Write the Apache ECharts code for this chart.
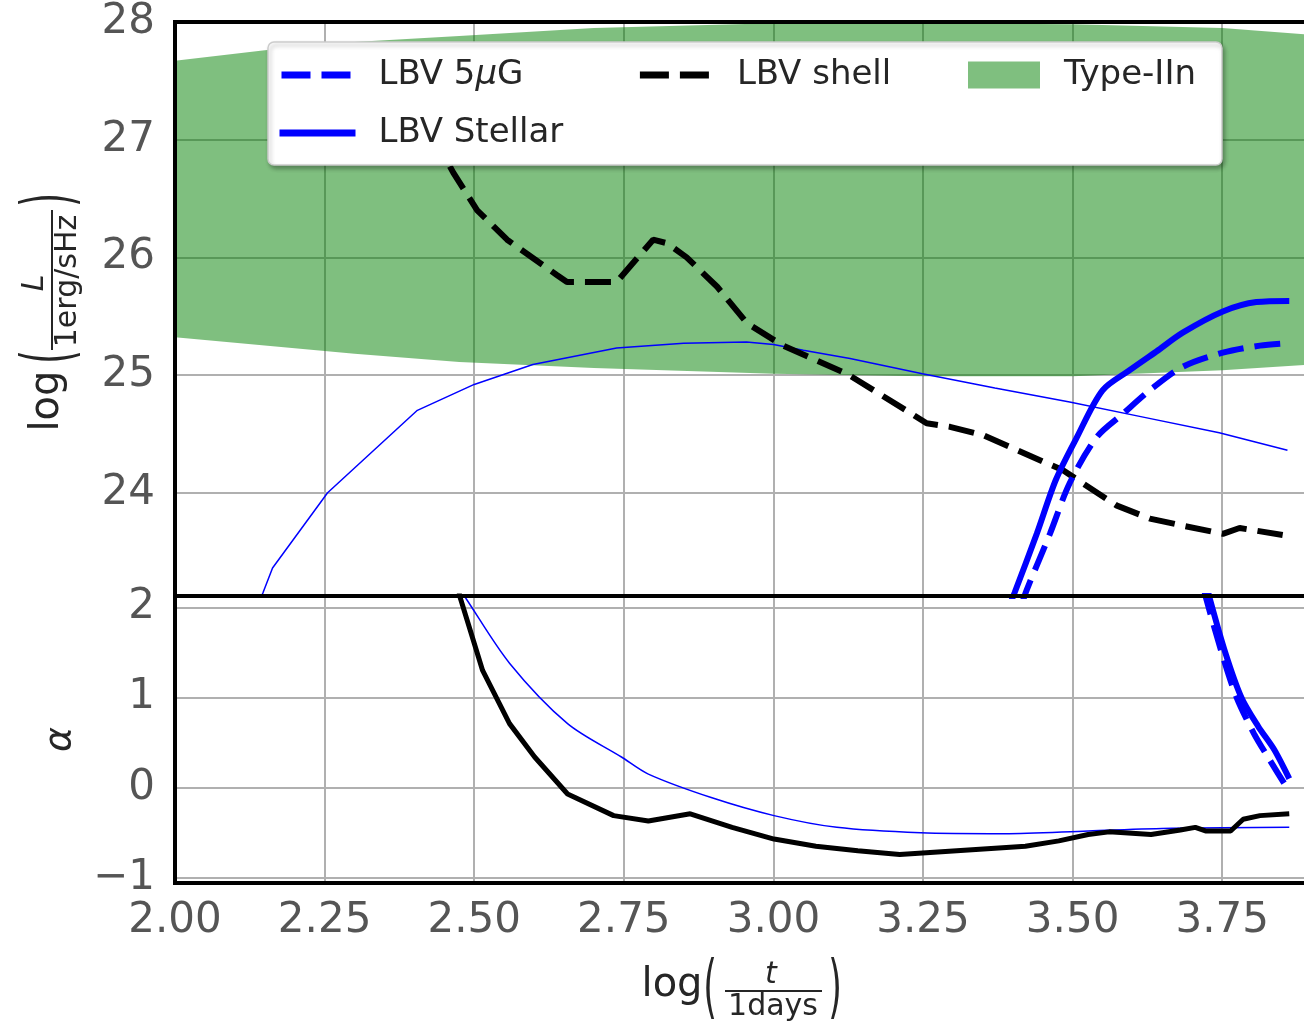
<!DOCTYPE html>
<html>
<head>
<meta charset="utf-8">
<title>LBV radio light curves</title>
<script src="https://cdn.jsdelivr.net/npm/echarts@6/dist/echarts.min.js"></script>
<style>
  html, body { margin: 0; padding: 0; background: #fff; }
  #chart { width: 1304px; height: 1025px; }
</style>
</head>
<body>
<div id="chart"></div>
<script>
// tick labels
const xTicks = [2.0, 2.25, 2.5, 2.75, 3.0, 3.25, 3.5, 3.75]
const lumTicks = [24, 25, 26, 27, 28]
const alphaTicks = [-1, 0, 1, 2]

// Type-IIn band (upper / lower edge of log L)
const bandX = [2.0, 2.15, 2.3, 2.475, 2.7, 3.0, 3.25, 3.5, 3.75, 3.9]
const bandUpper = [27.67, 27.76, 27.83, 27.88, 27.95, 27.99, 27.99, 27.98, 27.95, 27.89]
const bandLower = [25.32, 25.25, 25.18, 25.11, 25.06, 25.01, 24.99, 24.99, 25.04, 25.09]

// thin blue curve, top panel
const thinX = [2.139, 2.147, 2.163, 2.255, 2.405, 2.5, 2.598, 2.738, 2.85, 2.955, 3.0, 3.05, 3.128, 3.249, 3.37, 3.495, 3.62, 3.745, 3.859]
const thinL = [23.05, 23.15, 23.36, 24.0, 24.7, 24.92, 25.09, 25.23, 25.27, 25.28, 25.26, 25.21, 25.14, 25.01, 24.89, 24.77, 24.64, 24.51, 24.36]

// LBV shell (black dashed), top panel
const shellX = [2.43, 2.465, 2.505, 2.555, 2.638, 2.655, 2.738, 2.799, 2.822, 2.855, 2.906, 2.956, 3.016, 3.123, 3.139, 3.228, 3.256, 3.295, 3.35, 3.417, 3.484, 3.517, 3.574, 3.629, 3.684, 3.751, 3.779, 3.851]
const shellL = [27.05, 26.72, 26.4, 26.15, 25.85, 25.79, 25.79, 26.15, 26.12, 26.0, 25.75, 25.44, 25.25, 25.01, 24.96, 24.68, 24.59, 24.56, 24.49, 24.34, 24.19, 24.08, 23.89, 23.78, 23.72, 23.65, 23.7, 23.64]

// LBV Stellar (thick solid), top panel
const stellarX = [3.395, 3.403, 3.44, 3.472, 3.507, 3.55, 3.595, 3.64, 3.684, 3.751, 3.807, 3.862]
const stellarL = [23.05, 23.15, 23.65, 24.11, 24.47, 24.87, 25.04, 25.2, 25.36, 25.54, 25.62, 25.63]

// LBV 5uG (thick dashed), top panel
const fieldX = [3.415, 3.423, 3.462, 3.495, 3.54, 3.584, 3.629, 3.684, 3.751, 3.813, 3.858]
const fieldL = [23.05, 23.17, 23.65, 24.08, 24.47, 24.67, 24.87, 25.07, 25.19, 25.25, 25.27]

// spectral index, bottom panel
const thinAlphaX = [2.476, 2.486, 2.559, 2.656, 2.746, 2.791, 2.896, 3.001, 3.106, 3.246, 3.386, 3.526, 3.666, 3.862]
const thinAlpha = [2.2, 2.1, 1.38, 0.71, 0.34, 0.15, -0.11, -0.31, -0.44, -0.5, -0.51, -0.48, -0.45, -0.44]

const shellAlphaX = [2.474, 2.476, 2.514, 2.559, 2.601, 2.656, 2.733, 2.791, 2.861, 2.931, 3.001, 3.071, 3.141, 3.211, 3.281, 3.351, 3.421, 3.477, 3.526, 3.561, 3.631, 3.68, 3.705, 3.722, 3.764, 3.785, 3.813, 3.862]
const shellAlpha = [2.2, 2.12, 1.3, 0.71, 0.34, -0.07, -0.31, -0.37, -0.29, -0.44, -0.57, -0.65, -0.7, -0.74, -0.71, -0.68, -0.65, -0.59, -0.52, -0.49, -0.52, -0.47, -0.44, -0.48, -0.48, -0.35, -0.31, -0.29]

const stellarAlphaX = [3.726, 3.728, 3.755, 3.782, 3.81, 3.837, 3.862]
const stellarAlpha = [2.2, 2.125, 1.5, 1.0, 0.68, 0.42, 0.1]

const fieldAlphaX = [3.72, 3.722, 3.749, 3.774, 3.803, 3.83, 3.858]
const fieldAlpha = [2.2, 2.125, 1.5, 1.0, 0.6, 0.3, 0.0]

const FONT = 'DejaVu Sans'
const BLUE = '#0000ff'
const GRID_LINE = { lineStyle: { color: '#b0b0b0', width: 2 } }

function pairs(xs, ys) {
  return xs.map((x, i) => [x, ys[i]])
}

function isTick(v, ticks) {
  return ticks.some((t) => Math.abs(t - v) < 1e-6)
}

function lineSeries(name, xs, ys, axis, style, smooth) {
  return {
    name: name,
    type: 'line',
    xAxisIndex: axis,
    yAxisIndex: axis,
    data: pairs(xs, ys),
    symbol: 'none',
    showSymbol: false,
    clip: true,
    smooth: smooth || false,
    itemStyle: { color: style.color },
    lineStyle: style,
    emphasis: { disabled: true }
  }
}

// legend label: spacer + name, mu in italics
function legendLabel(name) {
  return '{s|}' + name.replace('μ', '{i|μ}')
}

function legendText(gap) {
  return {
    fontFamily: FONT,
    fontSize: 34,
    color: '#262626',
    lineHeight: 40,
    rich: {
      s: { width: gap },
      i: { fontFamily: FONT, fontSize: 34, fontStyle: 'italic', color: '#262626', lineHeight: 40 }
    }
  }
}

const chart = echarts.init(document.getElementById('chart'))

const xAxisBase = {
  type: 'value',
  min: 2,
  max: 3.9,
  interval: 0.25,
  axisLine: { show: false },
  axisTick: { show: false },
  splitLine: GRID_LINE
}

const option = {
  animation: false,
  backgroundColor: '#fff',
  grid: [
    { left: 175, top: 22, width: 1137, height: 574, show: true, borderColor: '#000', borderWidth: 4, backgroundColor: 'transparent', z: 10, outerBoundsMode: 'none' },
    { left: 175, top: 596, width: 1137, height: 287, show: true, borderColor: '#000', borderWidth: 4, backgroundColor: 'transparent', z: 10, outerBoundsMode: 'none' }
  ],
  xAxis: [
    Object.assign({}, xAxisBase, { gridIndex: 0, axisLabel: { show: false } }),
    Object.assign({}, xAxisBase, {
      gridIndex: 1,
      axisLabel: {
        fontFamily: FONT,
        fontSize: 42,
        color: '#555',
        margin: 17,
        showMaxLabel: false,
        formatter: (v) => (isTick(v, xTicks) ? v.toFixed(2) : '')
      }
    })
  ],
  yAxis: [
    {
      gridIndex: 0,
      type: 'value',
      min: 23.122,
      max: 28,
      minInterval: 1,
      maxInterval: 1,
      axisLine: { show: false },
      axisTick: { show: false },
      splitLine: GRID_LINE,
      axisLabel: {
        fontFamily: FONT,
        fontSize: 42,
        color: '#555',
        margin: 20,
        showMinLabel: false,
        formatter: (v) => (isTick(v, lumTicks) ? String(v) : '')
      }
    },
    {
      gridIndex: 1,
      type: 'value',
      min: -1.057,
      max: 2.125,
      minInterval: 1,
      maxInterval: 1,
      axisLine: { show: false },
      axisTick: { show: false },
      splitLine: GRID_LINE,
      name: 'α',
      nameLocation: 'middle',
      nameRotate: 90,
      nameGap: 96,
      nameTextStyle: { fontFamily: FONT, fontSize: 38, fontStyle: 'italic', color: '#262626' },
      axisLabel: {
        fontFamily: FONT,
        fontSize: 42,
        color: '#555',
        margin: 20,
        showMinLabel: false,
        showMaxLabel: false,
        formatter: (v) => (isTick(v, alphaTicks) ? (v < 0 ? '\u2212' + Math.abs(v) : String(v)) : '')
      }
    }
  ],
  legend: [
    {
      z: 6, left: 278, top: 55, padding: 0, itemGap: 113, itemWidth: 70, itemHeight: 14,
      lineStyle: { width: 7 },
      itemStyle: { opacity: 0 },
      textStyle: legendText(22),
      formatter: legendLabel,
      data: [
        { name: 'LBV 5μG', lineStyle: { type: [29, 11] } },
        { name: 'LBV shell', lineStyle: { type: [29, 11] } }
      ]
    },
    {
      z: 6, left: 276, top: 113, padding: 0, itemWidth: 76, itemHeight: 14,
      lineStyle: { width: 7 },
      itemStyle: { opacity: 0 },
      textStyle: legendText(18),
      formatter: legendLabel,
      data: ['LBV Stellar']
    },
    {
      z: 6, left: 968, top: 55, padding: 0, itemWidth: 72, itemHeight: 27, icon: 'rect',
      textStyle: legendText(19),
      formatter: legendLabel,
      data: ['Type-IIn']
    }
  ],
  graphic: [
    // legend frame
    {
      type: 'rect', z: 5, x: 268, y: 42, silent: true,
      shape: { width: 954, height: 123, r: 6 },
      style: { fill: '#fff', stroke: '#cccccc', lineWidth: 1.5, shadowBlur: 4, shadowOffsetX: 2, shadowOffsetY: 3, shadowColor: 'rgba(0,0,0,0.3)' }
    },
    // y label, top panel: log(L / 1erg/sHz)
    {
      type: 'group', x: 52, y: 281, rotation: Math.PI / 2, silent: true,
      children: [
        { type: 'text', x: -120, y: -4, style: { text: 'log', fontFamily: FONT, fontSize: 40, fill: '#262626', align: 'center', verticalAlign: 'middle' } },
        { type: 'text', x: -76, y: 1, scaleX: 0.5, style: { text: '(', fontFamily: FONT, fontSize: 70, fill: '#262626', align: 'center', verticalAlign: 'middle' } },
        { type: 'text', x: -2, y: -17, style: { text: 'L', fontFamily: FONT, fontSize: 30, fontStyle: 'italic', fill: '#262626', align: 'center', verticalAlign: 'middle' } },
        { type: 'line', shape: { x1: -69, y1: 0, x2: 71, y2: 0 }, style: { stroke: '#262626', lineWidth: 2 } },
        { type: 'text', x: 0, y: 16, style: { text: '1erg/sHz', fontFamily: FONT, fontSize: 30, fill: '#262626', align: 'center', verticalAlign: 'middle' } },
        { type: 'text', x: 81, y: 1, scaleX: 0.5, style: { text: ')', fontFamily: FONT, fontSize: 70, fill: '#262626', align: 'center', verticalAlign: 'middle' } }
      ]
    },
    // x label: log(t / 1days)
    {
      type: 'group', x: 0, y: 0, silent: true,
      children: [
        { type: 'text', x: 672, y: 986, style: { text: 'log', fontFamily: FONT, fontSize: 40, fill: '#262626', align: 'center', verticalAlign: 'middle' } },
        { type: 'text', x: 710, y: 992, scaleX: 0.5, style: { text: '(', fontFamily: FONT, fontSize: 70, fill: '#262626', align: 'center', verticalAlign: 'middle' } },
        { type: 'text', x: 771, y: 975, style: { text: 't', fontFamily: FONT, fontSize: 30, fontStyle: 'italic', fill: '#262626', align: 'center', verticalAlign: 'middle' } },
        { type: 'line', shape: { x1: 725, y1: 991, x2: 822, y2: 991 }, style: { stroke: '#262626', lineWidth: 2 } },
        { type: 'text', x: 773, y: 1007, style: { text: '1days', fontFamily: FONT, fontSize: 30, fill: '#262626', align: 'center', verticalAlign: 'middle' } },
        { type: 'text', x: 835, y: 992, scaleX: 0.5, style: { text: ')', fontFamily: FONT, fontSize: 70, fill: '#262626', align: 'center', verticalAlign: 'middle' } }
      ]
    }
  ],
  series: [
    // green band drawn through the axis scales
    {
      name: 'Type-IIn',
      type: 'custom',
      xAxisIndex: 0,
      yAxisIndex: 0,
      itemStyle: { color: 'rgba(0,128,0,0.5)' },
      data: [[bandX[0], bandLower[0]]],
      renderItem: function (params, api) {
        const top = bandX.map((x, i) => api.coord([x, bandUpper[i]]))
        const bottom = bandX.map((x, i) => api.coord([x, bandLower[i]])).reverse()
        return {
          type: 'polygon',
          shape: { points: top.concat(bottom) },
          style: { fill: 'rgba(0,128,0,0.5)' }
        }
      }
    },
    lineSeries('stellar-thin', thinX, thinL, 0, { color: BLUE, width: 1.5 }),
    lineSeries('LBV shell', shellX, shellL, 0, { color: '#000', width: 6, type: [26, 11], cap: 'butt' }),
    lineSeries('LBV Stellar', stellarX, stellarL, 0, { color: BLUE, width: 6 }, 0.3),
    lineSeries('LBV 5μG', fieldX, fieldL, 0, { color: BLUE, width: 6, type: [26, 11], cap: 'butt' }, 0.3),
    lineSeries('alpha-thin', thinAlphaX, thinAlpha, 1, { color: BLUE, width: 1.5 }, 0.3),
    lineSeries('alpha-shell', shellAlphaX, shellAlpha, 1, { color: '#000', width: 5 }),
    lineSeries('alpha-stellar', stellarAlphaX, stellarAlpha, 1, { color: BLUE, width: 6 }, 0.3),
    lineSeries('alpha-field', fieldAlphaX, fieldAlpha, 1, { color: BLUE, width: 6, type: [26, 11], cap: 'butt' }, 0.3)
  ]
}

chart.setOption(option)

window.addEventListener('resize', () => chart.resize())
</script>
</body>
</html>
